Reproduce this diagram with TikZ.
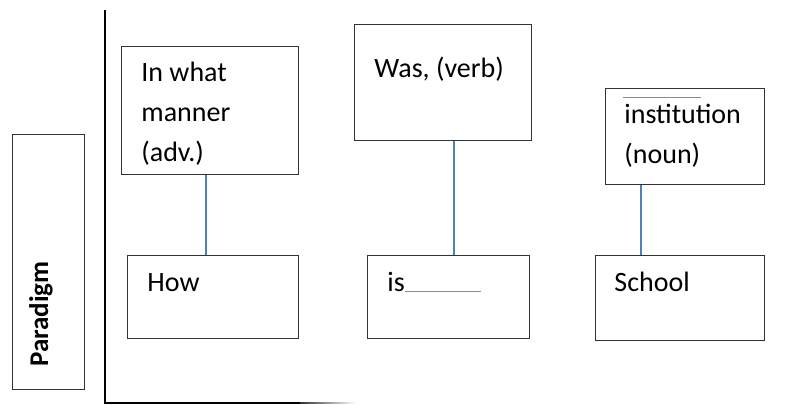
\documentclass[tikz,border=0pt]{standalone}
\usepackage{fontspec}
\setmainfont{Carlito}
\usetikzlibrary{calc}
\definecolor{linkblue}{RGB}{79,129,189}

\begin{document}
\begin{tikzpicture}[x=0.5pt, y=-0.5pt,
    wordbox/.style={draw=black!80, line width=0.6pt, rectangle, inner sep=0pt, anchor=north west},
    word/.style={anchor=base west, inner sep=0pt, align=left, font=\fontsize{14}{20}\selectfont},
    link/.style={draw=linkblue, line width=1pt},
    blank/.style={draw=black!45, line width=0.4pt}]
    \useasboundingbox (0,0) rectangle (798,405);

    % axis
    \draw[line width=1pt] (105,10) -- (105,403) -- (300,403);
    \shade[left color=black!80, right color=white] (300,402.2) rectangle (356,403.8);

    \node[wordbox, minimum width=36pt, minimum height=127.5pt] (par) at (12,134) {};
    \node[rotate=90, inner sep=0pt, font=\fontsize{13.5}{20}\selectfont\bfseries] (partxt) at (41,314) {Paradigm};

    % upper row (multi-line texts sit on their last baseline)
    \node[wordbox, minimum width=88.5pt, minimum height=64pt] (adv) at (121,46) {};
    \node[wordbox, minimum width=88.5pt, minimum height=58pt] (verb) at (354,24) {};
    \node[wordbox, minimum width=79.5pt, minimum height=48pt] (noun) at (605,88) {};

    \node[word] (advtxt) at (141,162) {In what\\manner\\(adv.)};
    \node[word] (verbtxt) at (374,78) {Was, (verb)};
    \node[word] (nountxt) at (624,164) {institution\\(noun)};
    \draw[blank] (623,97) -- (701,97);

    % lower row
    \node[wordbox, minimum width=85.5pt, minimum height=41.5pt] (how) at (127,255) {};
    \node[wordbox, minimum width=81pt, minimum height=41.5pt] (is) at (367,255) {};
    \node[wordbox, minimum width=84.5pt, minimum height=42.5pt] (school) at (595,255) {};

    \node[word] (howtxt) at (147,292) {How};
    \node[word] (istxt) at (387,292) {is};
    \draw[blank] ([yshift=0.5pt]istxt.base east) -- (481,291);
    \node[word] (schooltxt) at (614,292) {School};

    % links
    \draw[link] ([xshift=-2.25pt]adv.south) -- ([xshift=-3.75pt]how.north);
    \draw[link] ([xshift=5.25pt]verb.south) -- ([xshift=2.5pt]is.north);
    \draw[link] ([xshift=-22.25pt]noun.south) -- ([xshift=-19.75pt]school.north);
\end{tikzpicture}
\end{document}
